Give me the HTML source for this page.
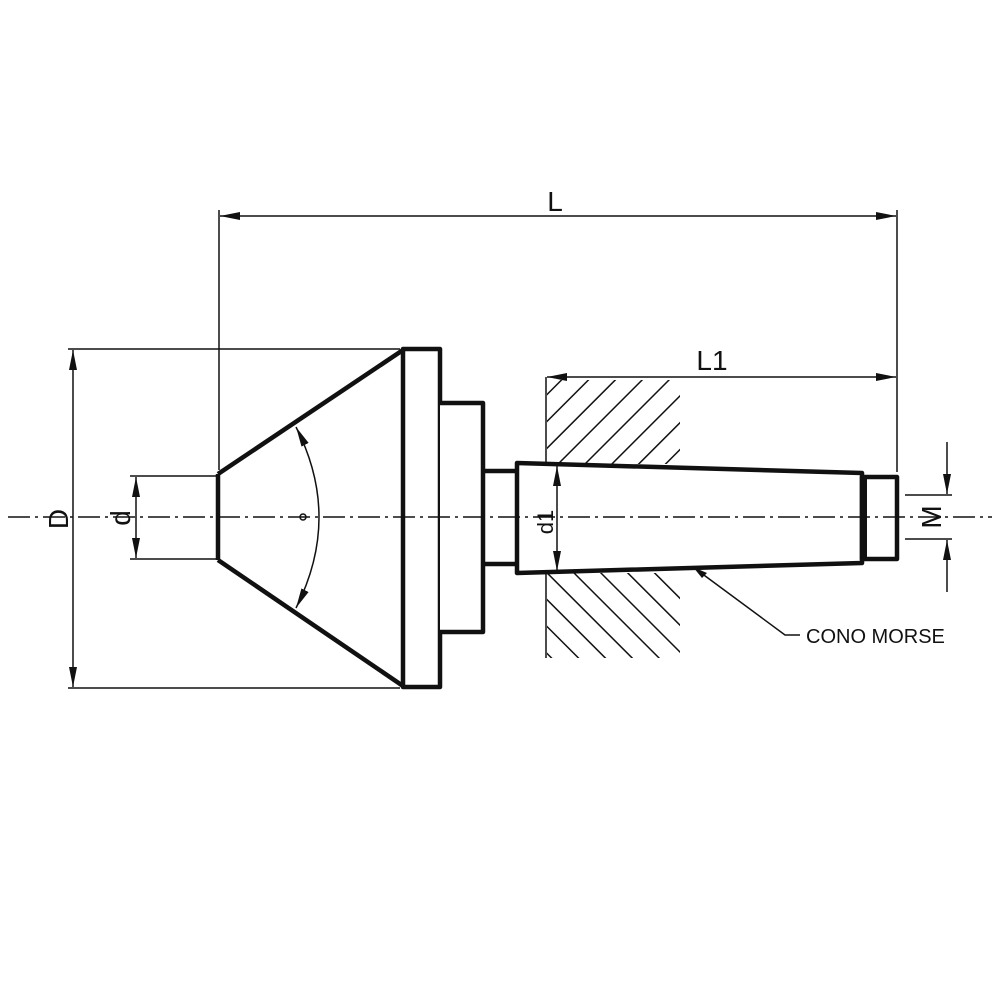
<!DOCTYPE html>
<html><head><meta charset="utf-8"><style>html,body{margin:0;padding:0;background:#fff}svg{display:block}</style></head><body>
<svg width="1000" height="1000" viewBox="0 0 1000 1000" xmlns="http://www.w3.org/2000/svg">
<defs>
<marker id="a" viewBox="0 0 20 8" refX="20" refY="4" markerWidth="20" markerHeight="8" markerUnits="userSpaceOnUse" orient="auto-start-reverse"><path d="M0,0 L20,4 L0,8 Z" fill="#111"/></marker>
<pattern id="p1" width="19" height="19" patternUnits="userSpaceOnUse" patternTransform="rotate(45)"><line x1="0" y1="0" x2="0" y2="19" stroke="#111" stroke-width="3"/></pattern>
<pattern id="p2" width="19" height="19" patternUnits="userSpaceOnUse" patternTransform="rotate(-45)"><line x1="0" y1="0" x2="0" y2="19" stroke="#111" stroke-width="3"/></pattern>
</defs>
<rect x="547" y="380" width="133" height="84" fill="url(#p1)"/>
<rect x="547" y="573" width="133" height="85" fill="url(#p2)"/>
<g stroke="#111" fill="none">
<line x1="546" y1="377" x2="546" y2="658" stroke-width="1.5"/>
<g stroke-width="4.5" stroke-linejoin="round">
<path d="M218,474 L218,560 M218,474 L403,350 M218,560 L403,686"/>
<rect x="403" y="349" width="37" height="338" fill="#fff"/>
<path d="M440,403 L483,403 L483,632 L440,632" fill="#fff"/>
<path d="M483,471 L517,471 M483,564 L517,564"/>
<path d="M517,463 L862,473 L862,563 L517,573 Z" fill="#fff"/>
<rect x="862" y="477" width="35" height="82" fill="#fff"/>
<line x1="864" y1="475" x2="864" y2="561" stroke-width="6"/>
</g>
<g stroke-width="1.5">
<line x1="219" y1="210" x2="219" y2="470"/>
<line x1="897" y1="210" x2="897" y2="472"/>
<line x1="220" y1="216" x2="896" y2="216" marker-start="url(#a)" marker-end="url(#a)"/>
<line x1="547" y1="377" x2="896" y2="377" marker-start="url(#a)" marker-end="url(#a)"/>
<line x1="68" y1="349" x2="400" y2="349"/>
<line x1="68" y1="688" x2="400" y2="688"/>
<line x1="73" y1="350" x2="73" y2="687" marker-start="url(#a)" marker-end="url(#a)"/>
<line x1="130" y1="476" x2="216" y2="476"/>
<line x1="130" y1="559" x2="216" y2="559"/>
<line x1="136" y1="477" x2="136" y2="558" marker-start="url(#a)" marker-end="url(#a)"/>
<line x1="557" y1="466" x2="557" y2="571" marker-start="url(#a)" marker-end="url(#a)"/>
<line x1="905" y1="495" x2="952" y2="495"/>
<line x1="905" y1="539" x2="952" y2="539"/>
<line x1="947" y1="442" x2="947" y2="494" marker-end="url(#a)"/>
<line x1="947" y1="592" x2="947" y2="540" marker-end="url(#a)"/>
<path d="M296,427 Q342,517 296,608" marker-start="url(#a)" marker-end="url(#a)"/>
<circle cx="303" cy="517" r="3"/>
<path d="M693,567 L785,635 L800,635"/>
</g>
<path d="M693,567 l14,6 l-5,5 Z" fill="#111" stroke="none"/>
<line x1="8" y1="517" x2="992" y2="517" stroke-width="1.5" stroke-dasharray="22,5,3,5"/>
</g>
<g font-family="Liberation Sans, sans-serif" fill="#111">
<text x="555" y="211" font-size="28" text-anchor="middle">L</text>
<text x="712" y="370" font-size="28" text-anchor="middle">L1</text>
<text x="806" y="643" font-size="20">CONO MORSE</text>
<text transform="translate(68,519) rotate(-90)" font-size="28" text-anchor="middle">D</text>
<text transform="translate(130,518) rotate(-90)" font-size="28" text-anchor="middle">d</text>
<text transform="translate(553,522) rotate(-90)" font-size="22" text-anchor="middle">d1</text>
<text transform="translate(941,517) rotate(-90)" font-size="28" text-anchor="middle">M</text>
</g>
</svg>
</body></html>
